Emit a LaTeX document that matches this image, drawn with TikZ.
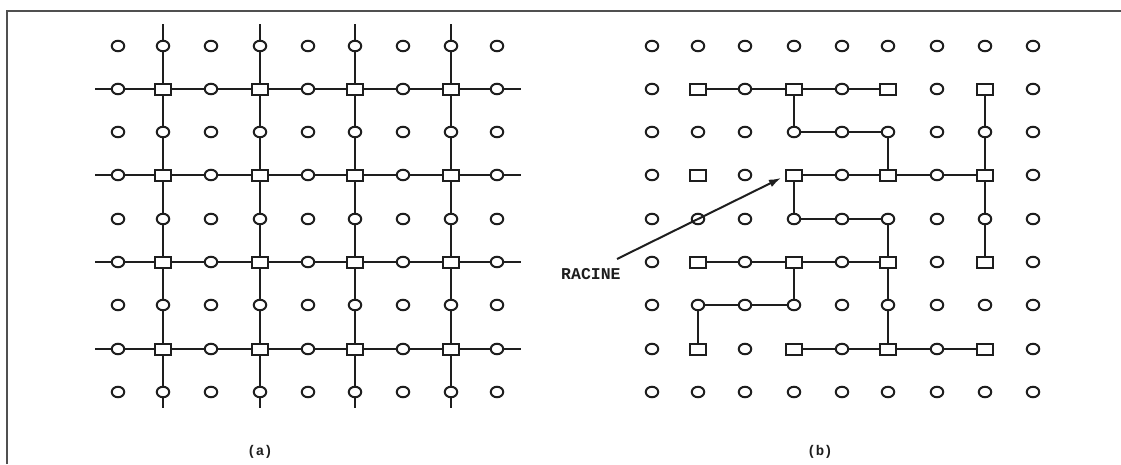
\documentclass[tikz,border=0pt]{standalone}
\usepackage{fontspec}
\newfontfamily\monofam{Liberation Mono}
\usetikzlibrary{shapes.geometric,arrows.meta}
\definecolor{ink}{RGB}{30,30,30}
\tikzset{
  circ/.style={ellipse, draw=ink, line width=2pt, minimum width=12.5pt, minimum height=10.5pt, inner sep=0pt, fill=white},
  sq/.style={rectangle, draw=ink, line width=2pt, minimum width=16pt, minimum height=11pt, inner sep=0pt, fill=white},
  conn/.style={draw=ink, line width=2pt},
  frameline/.style={draw={rgb,255:red,80;green,80;blue,80}, line width=2pt},
  lbl/.style={font=\monofam\bfseries\fontsize{14}{14}\selectfont, text=ink, inner sep=0pt},
}
\newcommand\mkgrid[2]{%
  \foreach \xx [count=\i from 0] in {#2} {
    \foreach \yy [count=\j from 0] in {46,89,132,175,219,262,305,349,392} {
      \pgfmathtruncatemacro\isq{mod(\i,2)*mod(\j,2)}
      \ifnum\isq=1
        \node[sq] (#1-\i-\j) at (\xx,\yy) {};
      \else
        \node[circ] (#1-\i-\j) at (\xx,\yy) {};
      \fi
    }
  }%
}
\begin{document}
\begin{tikzpicture}[x=1pt,y=-1pt]
\useasboundingbox (0,0) rectangle (1121,464);
% frame
\coordinate (fTL) at (7,11);
\coordinate (fTR) at (1121,11);
\coordinate (fBL) at (7,464);
\draw[frameline] (fBL) -- (fTL) -- (fTR);

% grid (a)
\mkgrid{a}{118,163,211,260,308,355,403,451,497}
% grid (b)
\mkgrid{b}{652,698,745,794,842,888,937,985,1033}

% (a) free ends and lines
\foreach \xx/\i in {163/1,260/3,355/5,451/7} {
  \coordinate (aT\i) at (\xx,24);
  \coordinate (aB\i) at (\xx,408);
  \draw[conn] (aT\i) -- (a-\i-0);
  \draw[conn] (a-\i-8) -- (aB\i);
  \foreach \j in {0,...,7} {
    \pgfmathtruncatemacro\k{\j+1}
    \draw[conn] (a-\i-\j) -- (a-\i-\k);
  }
}
\foreach \yy/\j in {89/1,175/3,262/5,349/7} {
  \coordinate (aL\j) at (95,\yy);
  \coordinate (aR\j) at (521,\yy);
  \draw[conn] (aL\j) -- (a-0-\j);
  \draw[conn] (a-8-\j) -- (aR\j);
  \foreach \i in {0,...,7} {
    \pgfmathtruncatemacro\k{\i+1}
    \draw[conn] (a-\i-\j) -- (a-\k-\j);
  }
}

% (b) tree
\draw[conn] (b-1-1) -- (b-2-1) -- (b-3-1) -- (b-4-1) -- (b-5-1);
\draw[conn] (b-3-1) -- (b-3-2) -- (b-4-2) -- (b-5-2) -- (b-5-3);
\draw[conn] (b-3-3) -- (b-4-3) -- (b-5-3) -- (b-6-3) -- (b-7-3);
\draw[conn] (b-7-1) -- (b-7-2) -- (b-7-3) -- (b-7-4) -- (b-7-5);
\draw[conn] (b-3-3) -- (b-3-4) -- (b-4-4) -- (b-5-4) -- (b-5-5) -- (b-5-6) -- (b-5-7);
\draw[conn] (b-1-5) -- (b-2-5) -- (b-3-5) -- (b-4-5) -- (b-5-5);
\draw[conn] (b-3-5) -- (b-3-6) -- (b-2-6) -- (b-1-6) -- (b-1-7);
\draw[conn] (b-3-7) -- (b-4-7) -- (b-5-7) -- (b-6-7) -- (b-7-7);

% root label and arrow
\node[lbl, font=\monofam\bfseries\fontsize{16.5}{16.5}\selectfont, anchor=west] (racine) at (561,274) {RACINE};
\coordinate (arrowstart) at (617,259);
\draw[conn, -{Latex[length=12pt,width=8pt]}] (arrowstart) -- ([xshift=-4pt,yshift=3.5pt]b-3-3.south west);

% captions
\node[lbl] (capa) at (260,452) {(a)};
\node[lbl] (capb) at (820,452) {(b)};
\end{tikzpicture}
\end{document}
